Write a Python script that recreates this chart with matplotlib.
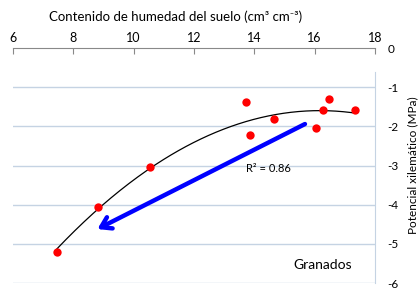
import matplotlib

matplotlib.use("Agg")
import matplotlib.pyplot as plt
import numpy as np

plt.rcParams["font.family"] = ["Lato", "DejaVu Sans"]

# valores
humedad = [7.46, 8.81, 10.54, 13.71, 13.87, 14.67, 16.04, 16.29, 16.49, 17.35]
potencial = [-5.20, -4.05, -3.03, -1.39, -2.21, -1.82, -2.05, -1.57, -1.29, -1.59]
x_ticks = [6, 8, 10, 12, 14, 16, 18]
y_ticks = [0, -1, -2, -3, -4, -5, -6]
r2_text = "R² = 0.86"
sitio = "Granados"

GRID = "#C5D3E3"

fig = plt.figure(figsize=(4.18, 2.91), dpi=100)
ax = fig.add_axes([0.031, 0.027, 0.866, 0.808])

# curva de tendencia polinómica de orden 2
coef = np.polyfit(humedad, potencial, 2)
xs = np.linspace(min(humedad), max(humedad), 200)
ax.plot(xs, np.polyval(coef, xs), color="black", lw=0.9, zorder=2)

ax.scatter(humedad, potencial, s=36, color="#FF0000", zorder=3, linewidths=0)

ax.annotate("", xy=(8.8, -4.62), xytext=(15.68, -1.94),
            arrowprops=dict(arrowstyle="->,head_length=0.7,head_width=0.45",
                            color="#0000FF", lw=3.2, shrinkA=0, shrinkB=0),
            zorder=4)

ax.text(13.71, -3.08, r2_text, fontsize=8, va="center", ha="left")
ax.text(15.3, -5.53, sitio, fontsize=10, va="center", ha="left")

ax.set_xlim(6, 18)
ax.set_ylim(-6, 0)
ax.set_yticks(y_ticks)
ax.set_yticklabels([str(v) for v in y_ticks])
for v in y_ticks[1:]:
    ax.axhline(v, color=GRID, lw=1, zorder=1)

ax.xaxis.set_ticks_position("top")
ax.xaxis.set_label_position("top")
ax.set_xticks(x_ticks)
ax.tick_params(axis="x", direction="in", length=4, color="#898989",
               labelsize=9, pad=3)
ax.set_xlabel("")

ax.yaxis.set_ticks_position("right")
ax.yaxis.set_label_position("right")
ax.tick_params(axis="y", length=0, labelsize=8.5, pad=9)
ax.set_ylabel("Potencial xilemático (MPa)", fontsize=8.5, labelpad=6)

for side in ("left", "bottom"):
    ax.spines[side].set_visible(False)
ax.spines["top"].set_color("#898989")
ax.spines["right"].set_color(GRID)
ax.spines["right"].set_bounds(-6, -0.62)

fig.text(0.42, 0.942, "Contenido de humedad del suelo (cm³ cm⁻³)",
         fontsize=9.5, ha="center", va="center")

fig.savefig("out.png", dpi=100)
